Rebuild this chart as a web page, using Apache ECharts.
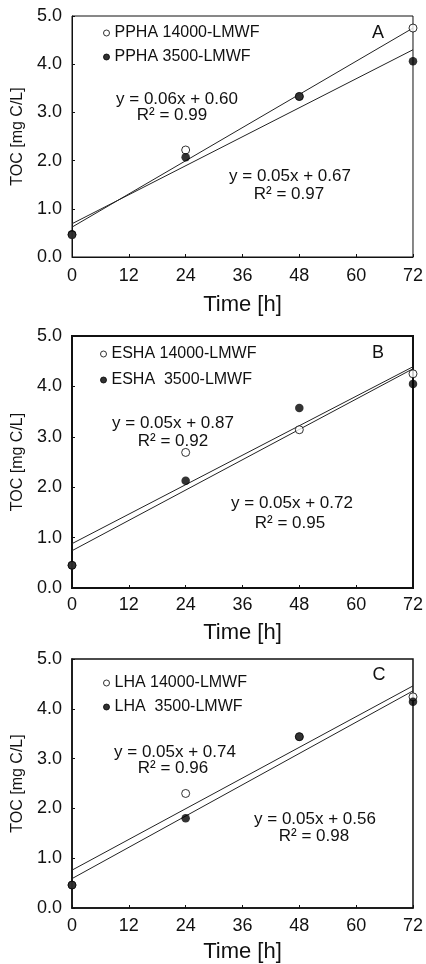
<!DOCTYPE html>
<html>
<head>
<meta charset="utf-8">
<script src="https://cdn.jsdelivr.net/npm/echarts@6/dist/echarts.min.js"></script>
<style>
html,body{margin:0;padding:0;background:#fff;}
#chart{width:426px;height:964px;}
</style>
</head>
<body>
<div id="chart"></div>
<script>
// ---------- DATA ----------
var timeH = [0, 24, 48, 72];
var xTicks = [0, 12, 24, 36, 48, 60, 72];
var yTicks = ['0.0', '1.0', '2.0', '3.0', '4.0', '5.0'];
var panelLetters = ['A', 'B', 'C'];

var namesHigh = ['PPHA 14000-LMWF', 'ESHA 14000-LMWF', 'LHA 14000-LMWF'];
var namesLow  = ['PPHA 3500-LMWF', 'ESHA  3500-LMWF', 'LHA  3500-LMWF'];

// open circles (14000-LMWF)
var tocHighA = [0.46, 2.22, 3.33, 4.75];
var tocHighB = [0.45, 2.69, 3.14, 4.25];
var tocHighC = [0.46, 2.30, 3.44, 4.24];
// filled circles (3500-LMWF)
var tocLowA = [0.47, 2.07, 3.33, 4.06];
var tocLowB = [0.45, 2.13, 3.57, 4.05];
var tocLowC = [0.46, 1.80, 3.44, 4.14];

// trend lines: value at t=0 and at t=72
var fitHighA = [0.62, 4.75];
var fitLowA  = [0.69, 4.30];
var fitHighB = [0.88, 4.39];
var fitLowB  = [0.74, 4.35];
var fitHighC = [0.76, 4.46];
var fitLowC  = [0.59, 4.36];
var fitX = [0, 72];

var eqHigh = ['y = 0.06x + 0.60', 'y = 0.05x + 0.87', 'y = 0.05x + 0.74'];
var r2High = ['R\u00b2 = 0.99', 'R\u00b2 = 0.92', 'R\u00b2 = 0.96'];
var eqLow  = ['y = 0.05x + 0.67', 'y = 0.05x + 0.72', 'y = 0.05x + 0.56'];
var r2Low  = ['R\u00b2 = 0.97', 'R\u00b2 = 0.95', 'R\u00b2 = 0.98'];

// ---------- LAYOUT ----------
var FONT = '"Liberation Sans", Arial, sans-serif';
var INK = '#111';
var grids = [
  {left: 72, top: 16, width: 341, height: 241, bw: 1, labelMargin: 10, nameGap: 37, legendLeft: 103, legendTop: 25, legendGap: 8},
  {left: 72, top: 336, width: 342, height: 252, bw: 2, labelMargin: 8, nameGap: 34, legendLeft: 100, legendTop: 346, legendGap: 10},
  {left: 72, top: 659, width: 341, height: 250, bw: 1.5, labelMargin: 9, nameGap: 33, legendLeft: 103, legendTop: 675, legendGap: 8}
];
var textPos = [
  {eq1: [177, 99], r1: [172, 115], eq2: [290, 176], r2: [289, 194], letter: [378, 33]},
  {eq1: [173, 423], r1: [173, 441], eq2: [292, 503], r2: [290, 523], letter: [378, 353]},
  {eq1: [175, 752], r1: [173, 768], eq2: [315, 819], r2: [314, 836], letter: [379, 675]}
];

var highs = [tocHighA, tocHighB, tocHighC];
var lows = [tocLowA, tocLowB, tocLowC];
var fitsHigh = [fitHighA, fitHighB, fitHighC];
var fitsLow = [fitLowA, fitLowB, fitLowC];

function pairs(xs, ys) { return xs.map(function (x, i) { return [x, ys[i]]; }); }

var option = {
  animation: false,
  backgroundColor: '#fff',
  textStyle: {fontFamily: FONT},
  grid: [], xAxis: [], yAxis: [], series: [], legend: [], graphic: []
};

grids.forEach(function (g, i) {
  option.grid.push({left: g.left, top: g.top, width: g.width, height: g.height,
    show: true, borderColor: INK, borderWidth: g.bw, backgroundColor: 'transparent'});
  option.xAxis.push({
    type: 'value', gridIndex: i, min: xTicks[0], max: xTicks[xTicks.length - 1], interval: 12,
    name: 'Time [h]', nameLocation: 'middle', nameGap: g.nameGap,
    nameTextStyle: {fontSize: 22, color: INK, fontFamily: FONT},
    axisLine: {show: true, onZero: false, lineStyle: {color: INK, width: g.bw}},
    axisTick: {show: true, inside: true, length: 3, lineStyle: {color: INK, width: 1}},
    axisLabel: {fontSize: 18, color: INK, margin: g.labelMargin, fontFamily: FONT, showMinLabel: true, showMaxLabel: true},
    splitLine: {show: false}
  });
  option.yAxis.push({
    type: 'value', gridIndex: i, min: 0, max: 5, interval: 1,
    name: 'TOC [mg C/L]', nameLocation: 'middle', nameGap: 41, nameRotate: 90,
    nameTextStyle: {fontSize: 16, color: INK, fontFamily: FONT},
    axisLine: {show: true, onZero: false, lineStyle: {color: INK, width: g.bw}},
    axisTick: {show: true, inside: true, length: 3, lineStyle: {color: INK, width: 1}},
    axisLabel: {fontSize: 18, color: INK, margin: 10, fontFamily: FONT,
      formatter: function (v) { return yTicks[Math.round(v)]; }},
    splitLine: {show: false}
  });
  // trend lines
  option.series.push({type: 'line', name: 'fitHigh' + i, xAxisIndex: i, yAxisIndex: i,
    data: pairs(fitX, fitsHigh[i]), symbol: 'none', clip: false,
    lineStyle: {color: '#222', width: 1}, z: 2});
  option.series.push({type: 'line', name: 'fitLow' + i, xAxisIndex: i, yAxisIndex: i,
    data: pairs(fitX, fitsLow[i]), symbol: 'none', clip: false,
    lineStyle: {color: '#222', width: 1}, z: 2});
  // open circles
  option.series.push({type: 'scatter', name: namesHigh[i], xAxisIndex: i, yAxisIndex: i,
    data: pairs(timeH, highs[i]), symbol: 'circle', symbolSize: 8, clip: false,
    itemStyle: {color: '#fff', borderColor: '#000', borderWidth: 1}, z: 3});
  // filled circles
  option.series.push({type: 'scatter', name: namesLow[i], xAxisIndex: i, yAxisIndex: i,
    data: pairs(timeH, lows[i]), symbol: 'circle', symbolSize: 8.5, clip: false,
    itemStyle: {color: '#000', borderColor: '#000', borderWidth: 0}, z: 4});
  option.legend.push({
    data: [namesHigh[i], namesLow[i]], orient: 'vertical', left: g.legendLeft, top: g.legendTop,
    itemGap: g.legendGap, itemWidth: 6, itemHeight: 6, padding: 0, selectedMode: false,
    itemStyle: {borderWidth: 1},
    textStyle: {fontSize: 16, color: INK, fontFamily: FONT, lineHeight: 16}
  });
  var p = textPos[i];
  function txt(pos, s, size) {
    return {type: 'text', x: pos[0], y: pos[1], z: 10,
      style: {text: s, fill: INK, font: size + 'px ' + FONT, textAlign: 'center', textVerticalAlign: 'middle',
        align: 'center', verticalAlign: 'middle'}};
  }
  option.graphic.push(txt(p.eq1, eqHigh[i], 17));
  option.graphic.push(txt(p.r1, r2High[i], 17));
  option.graphic.push(txt(p.eq2, eqLow[i], 17));
  option.graphic.push(txt(p.r2, r2Low[i], 17));
  option.graphic.push(txt(p.letter, panelLetters[i], 18));
});

var chart = echarts.init(document.getElementById('chart'), null, {renderer: 'canvas'});
chart.setOption(option);
</script>
</body>
</html>
